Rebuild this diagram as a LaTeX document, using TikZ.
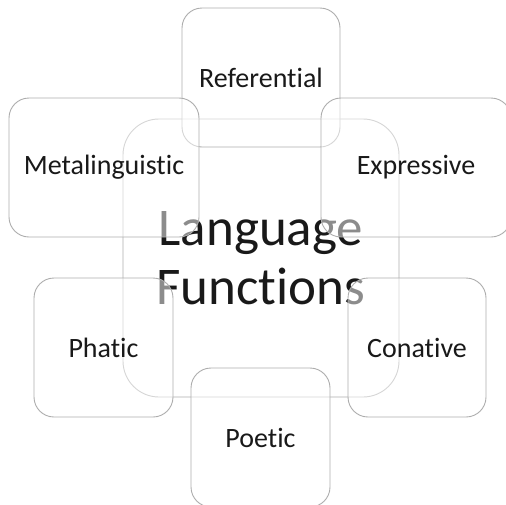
\documentclass[tikz,border=0pt]{standalone}
\usepackage{fontspec}
\setmainfont[RawFeature={-liga}]{Carlito}
\begin{document}
\begin{tikzpicture}[x=1pt,y=-1pt,
  box/.style={draw=black!32, line width=0.9pt, rounded corners=20pt, align=center,
    text=black!90, inner sep=0pt, font=\fontsize{28}{32}\selectfont},
  outerbox/.style={box, fill=white, fill opacity=0.5, text opacity=1},
  hub/.style={box, rounded corners=36pt, font=\fontsize{53}{59}\selectfont}]
\useasboundingbox (0,0) rectangle (506,504);
% central hub
\node[hub, minimum width=276pt, minimum height=278pt] (hub) at (261,258) {Language\\Functions};
% the six functions around it
\node[outerbox, minimum width=158pt, minimum height=139pt] (ref) at (261,77.5) {Referential};
\node[outerbox, minimum width=190pt, minimum height=139pt] (exp) at (416,167.5) {Expressive};
\node[outerbox, minimum width=138pt, minimum height=139pt] (con) at (417,347.5) {Conative};
\node[outerbox, minimum width=139pt, minimum height=139pt] (poe) at (260.5,437.5) {Poetic};
\node[outerbox, minimum width=139pt, minimum height=139pt] (pha) at (103.5,347.5) {Phatic};
\node[outerbox, minimum width=190pt, minimum height=139pt] (met) at (104,167.5) {Metalinguistic};
\end{tikzpicture}
\end{document}
